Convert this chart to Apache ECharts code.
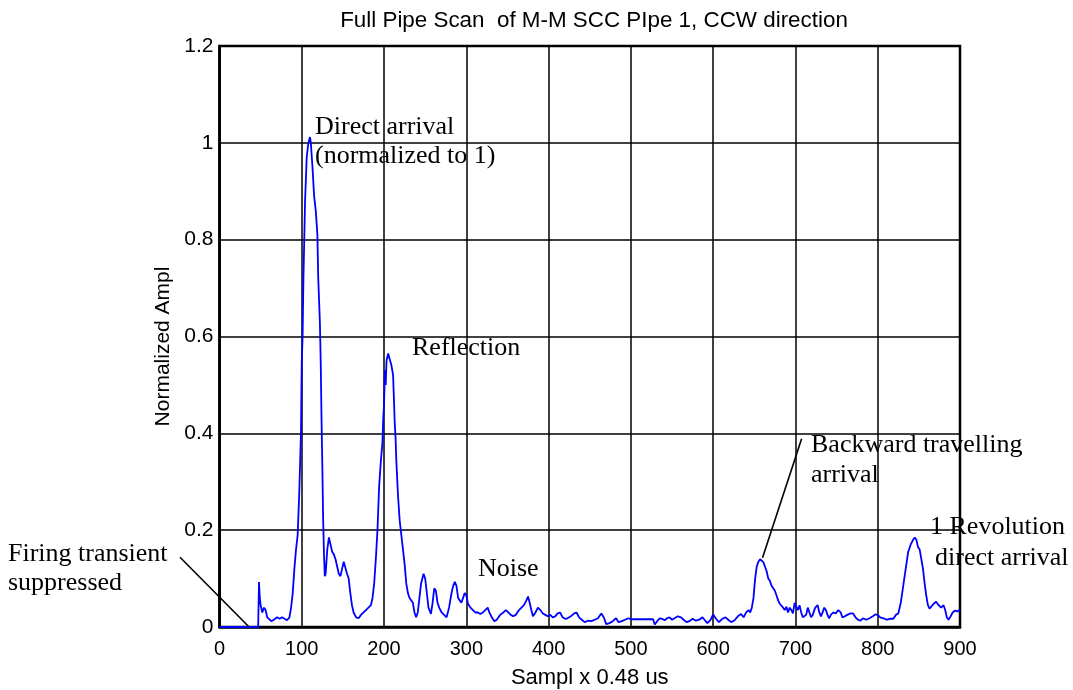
<!DOCTYPE html>
<html>
<head>
<meta charset="utf-8">
<script src="https://cdn.jsdelivr.net/npm/echarts@6/dist/echarts.min.js"></script>
<style>
html,body{margin:0;padding:0;background:#fff;}
#chart{width:1073px;height:690px;}
</style>
</head>
<body>
<div id="chart"></div>
<script>
const titleText = 'Full Pipe Scan  of M-M SCC PIpe 1, CCW direction';
const xAxisName = 'Sampl x 0.48 us';
const yAxisName = 'Normalized Ampl';

const sampleIndex = [
0,47,48,49,50,52,54,56,58,60,63,66,70,73,76,79,82,85,87,89,91,93,95,97,99,100,101,102,103,104,106,108,110,111,113,115,117,119,120,122,123,124,125,126,127,128,129,131,133,135,137,139,141,143,145,147,149,151,153,155,157,159,161,163,166,169,172,175,178,181,184,186,188,190,192,194,196,198,199,200,201,202,203,205,207,209,211,213,214,215,217,219,221,223,225,227,229,231,233,235,237,239,241,243,245,248,250,252,254,257,259,261,263,265,267,270,273,276,279,282,284,286,288,290,292,294,296,298,300,302,305,308,311,314,317,320,323,326,328,331,334,337,341,345,348,351,354,357,360,364,367,370,373,375,377,379,381,384,387,390,393,396,399,402,405,408,411,414,417,420,423,427,431,434,437,441,444,448,452,456,460,464,467,470,474,478,482,485,489,493,497,500,527,529,532,535,538,541,544,547,550,553,557,561,564,568,571,575,579,583,587,590,593,597,600,603,607,611,615,619,622,626,630,634,637,640,643,645,647,649,651,653,655,657,659,661,663,665,667,669,671,673,675,677,679,681,683,685,687,689,691,693,695,697,699,701,703,705,707,709,711,713,715,717,719,721,724,727,729,731,733,735,737,739,741,743,746,749,752,755,757,760,763,767,770,773,776,779,782,786,790,794,797,800,803,807,811,815,819,822,825,828,831,834,837,840,843,845,847,849,851,853,855,857,859,861,863,865,868,871,874,877,880,882,884,886,888,891,894,897,900
];
const amplitude = [
0,0,0.093,0.06,0.045,0.03,0.04,0.035,0.02,0.017,0.012,0.015,0.02,0.017,0.02,0.017,0.014,0.02,0.04,0.07,0.12,0.16,0.19,0.28,0.40,0.55,0.6,0.72,0.8,0.88,0.97,1.0,1.012,1.0,0.95,0.89,0.86,0.81,0.72,0.63,0.55,0.43,0.33,0.22,0.15,0.105,0.11,0.16,0.185,0.17,0.155,0.15,0.14,0.125,0.11,0.105,0.12,0.135,0.135,0.11,0.1,0.07,0.045,0.03,0.02,0.018,0.025,0.03,0.035,0.04,0.045,0.06,0.09,0.14,0.2,0.29,0.34,0.38,0.43,0.46,0.53,0.50,0.55,0.565,0.565,0.54,0.52,0.42,0.39,0.34,0.27,0.22,0.19,0.16,0.13,0.09,0.07,0.06,0.058,0.05,0.03,0.02,0.03,0.06,0.09,0.11,0.1,0.07,0.04,0.027,0.05,0.08,0.075,0.05,0.04,0.03,0.025,0.02,0.04,0.07,0.085,0.093,0.085,0.06,0.055,0.05,0.06,0.07,0.065,0.048,0.04,0.035,0.03,0.03,0.027,0.03,0.035,0.04,0.03,0.02,0.012,0.015,0.025,0.03,0.035,0.03,0.025,0.022,0.025,0.035,0.04,0.045,0.055,0.063,0.05,0.035,0.022,0.03,0.04,0.035,0.028,0.025,0.022,0.025,0.02,0.022,0.028,0.03,0.02,0.017,0.018,0.022,0.028,0.03,0.02,0.014,0.01,0.013,0.012,0.015,0.018,0.028,0.02,0.006,0.008,0.012,0.018,0.01,0.012,0.015,0.018,0.016,0.016,0.005,0.012,0.018,0.017,0.014,0.018,0.02,0.015,0.018,0.022,0.02,0.015,0.01,0.012,0.017,0.013,0.015,0.02,0.014,0.008,0.015,0.026,0.018,0.01,0.017,0.02,0.014,0.01,0.014,0.022,0.027,0.02,0.03,0.035,0.03,0.04,0.06,0.1,0.125,0.135,0.14,0.138,0.134,0.13,0.115,0.1,0.095,0.085,0.08,0.075,0.065,0.055,0.048,0.045,0.04,0.035,0.042,0.03,0.04,0.035,0.028,0.05,0.052,0.035,0.045,0.03,0.02,0.018,0.025,0.04,0.03,0.02,0.025,0.04,0.045,0.03,0.022,0.03,0.04,0.035,0.025,0.018,0.025,0.03,0.028,0.035,0.03,0.02,0.022,0.025,0.028,0.028,0.02,0.015,0.013,0.018,0.015,0.018,0.022,0.026,0.025,0.02,0.018,0.015,0.017,0.017,0.025,0.028,0.05,0.085,0.12,0.155,0.17,0.18,0.185,0.18,0.165,0.16,0.14,0.12,0.09,0.065,0.045,0.038,0.04,0.048,0.052,0.045,0.04,0.045,0.035,0.02,0.015,0.02,0.03,0.034,0.032,0.036
];
const xTicks = [0,100,200,300,400,500,600,700,800,900];
const yTicks = [0,0.2,0.4,0.6,0.8,1,1.2];

// annotation leader lines in data coordinates [x, y]
const firingLine = [[-48, 0.144], [36, 0.0]];
const backwardLine = [[707.5, 0.389], [660, 0.143]];

const annotations = [
  {text: 'Direct arrival', left: 315, top: 114},
  {text: '(normalized to 1)', left: 315, top: 143},
  {text: 'Reflection', left: 412, top: 335},
  {text: 'Noise', left: 478, top: 556},
  {text: 'Backward travelling', left: 811, top: 432},
  {text: 'arrival', left: 811, top: 462},
  {text: '1 Revolution', left: 930, top: 514},
  {text: 'direct arrival', left: 935, top: 545},
  {text: 'Firing transient', left: 8, top: 541},
  {text: 'suppressed', left: 8, top: 570}
];

const seriesData = sampleIndex.map((x, i) => [x, amplitude[i]]);

const chart = echarts.init(document.getElementById('chart'), null, {renderer: 'canvas'});
const gridLeft = 219.5, gridTop = 46, gridRight = 113, gridBottom = 63;

const option = {
  backgroundColor: '#fff',
  animation: false,
  title: {
    text: titleText,
    left: 589,
    textAlign: 'center',
    top: 5,
    textStyle: {fontFamily: 'Liberation Sans, Arial', fontSize: 22.4, fontWeight: 'normal', color: '#000'}
  },
  grid: {
    left: gridLeft, top: gridTop, right: gridRight, bottom: gridBottom,
    containLabel: false, outerBoundsMode: 'none',
    show: true, borderColor: '#000', borderWidth: 2.5, backgroundColor: '#fff'
  },
  xAxis: {
    type: 'value', min: 0, max: 900, interval: 100,
    name: xAxisName, nameLocation: 'middle', nameGap: 40,
    nameTextStyle: {fontFamily: 'Liberation Sans, Arial', fontSize: 22, color: '#000'},
    axisLine: {show: true, lineStyle: {color: '#000', width: 2.5}},
    axisTick: {show: false},
    axisLabel: {fontFamily: 'Liberation Sans, Arial', fontSize: 20, color: '#000', margin: 12},
    splitLine: {show: true, lineStyle: {color: '#000', width: 1.5}}
  },
  yAxis: {
    type: 'value', min: 0, max: 1.2, interval: 0.2,
    name: yAxisName, nameLocation: 'middle', nameGap: 44,
    nameTextStyle: {fontFamily: 'Liberation Sans, Arial', fontSize: 21, color: '#000', padding: [0, 20, 0, 0]},
    axisLine: {show: true, lineStyle: {color: '#000', width: 2.5}},
    axisTick: {show: false},
    axisLabel: {fontFamily: 'Liberation Sans, Arial', fontSize: 21, color: '#000', margin: 6,
      formatter: v => String(Math.round(v * 10) / 10)},
    splitLine: {show: true, lineStyle: {color: '#000', width: 1.5}}
  },
  series: [{
    type: 'line',
    data: seriesData,
    showSymbol: false,
    symbol: 'none',
    lineStyle: {color: '#0000ff', width: 1.8},
    itemStyle: {color: '#0000ff'},
    z: 5
  }]
};
chart.setOption(option);

function lineGraphic(pts) {
  const a = chart.convertToPixel({gridIndex: 0}, pts[0]);
  const b = chart.convertToPixel({gridIndex: 0}, pts[1]);
  return {type: 'line', shape: {x1: a[0], y1: a[1], x2: b[0], y2: b[1]},
    style: {stroke: '#000', lineWidth: 1.6}, z: 20};
}
const graphics = [lineGraphic(firingLine), lineGraphic(backwardLine)];
annotations.forEach(a => {
  graphics.push({
    type: 'text', left: a.left, top: a.top, z: 30,
    style: {text: a.text, fill: '#000', font: '26px "Liberation Serif", "Times New Roman", serif'}
  });
});
chart.setOption({graphic: graphics});
</script>
</body>
</html>
